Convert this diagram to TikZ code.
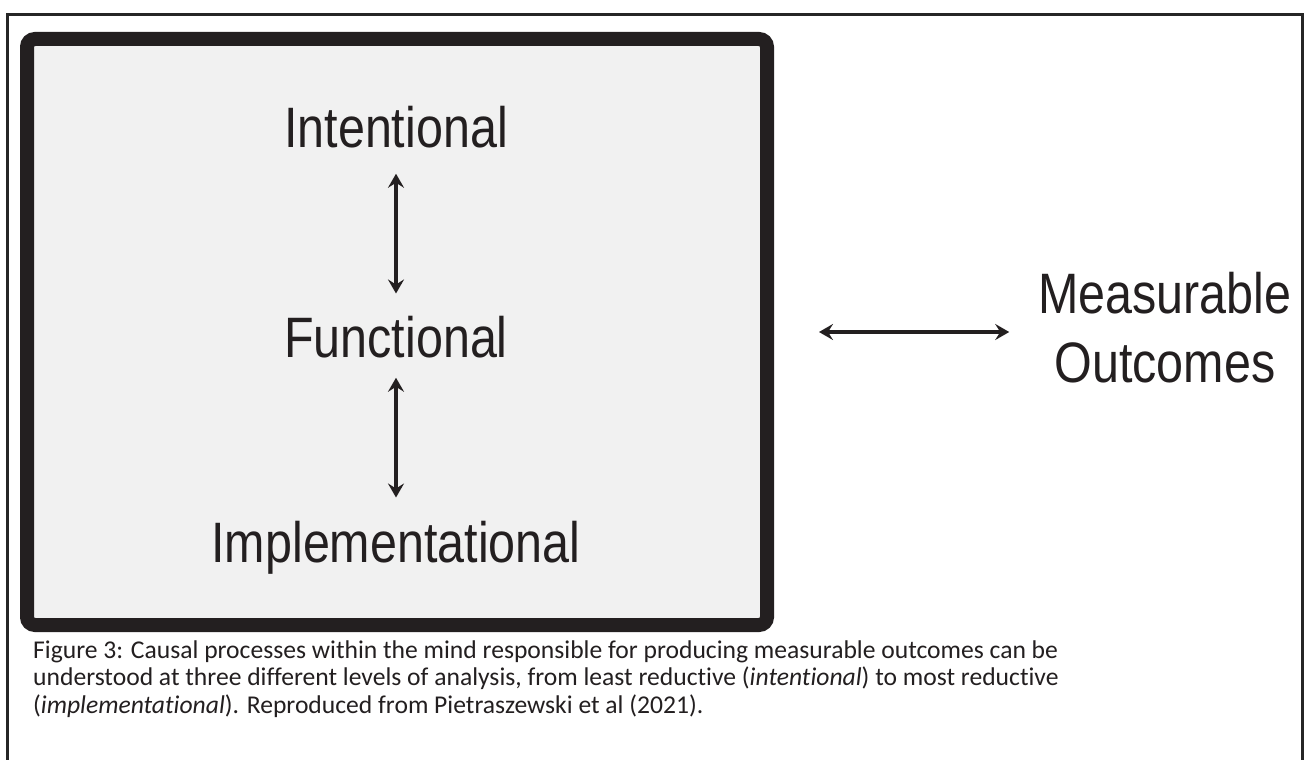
\documentclass[tikz,border=0pt]{standalone}
\usepackage{fontspec}
\setmainfont[Ligatures=NoCommon]{Carlito}
\newfontfamily\condfont[FakeStretch=0.85]{Liberation Sans}
\usetikzlibrary{arrows.meta}
\definecolor{boxfill}{HTML}{F1F1F1}
\definecolor{ink}{HTML}{231F20}
\tikzset{
  level/.style={inner sep=0pt, font=\condfont\fontsize{57}{69}\selectfont, text=ink},
  caption/.style={inner sep=0pt, anchor=base west, font=\fontsize{25.6}{27.5}\selectfont, text=ink},
  dblarrow/.style={line width=3.2pt, draw=ink, {Stealth[length=14pt,width=16pt,inset=5pt]}-{Stealth[length=14pt,width=16pt,inset=5pt]}},
}
\begin{document}
\begin{tikzpicture}[x=1pt,y=-1pt]
\useasboundingbox (0,0) rectangle (1304,760);
\fill[white] (0,0) rectangle (1304,760);
% outer frame
\draw[line width=3pt, draw=black!85] (7,762) -- (7,15) -- (1302,15) -- (1302,762);
% inner box
\node[draw=ink, fill=boxfill, line width=14pt, rounded corners=8pt,
      minimum width=740pt, minimum height=586pt, inner sep=0pt] (box) at (397,332) {};
% levels
\node[level, anchor=base] (int) at (396,147) {Intentional};
\node[level, anchor=base] (fun) at (396,357) {Functional};
\node[level, anchor=base] (imp) at (396,562) {Implementational};
\node[level, align=center] (meas) at (1165,327.5) {Measurable\\Outcomes};
% arrows
\draw[dblarrow, shorten <=26pt, shorten >=22pt] (int.south) -- (fun.north);
\draw[dblarrow, shorten <=20pt, shorten >=23pt] (fun.south) -- (imp.north);
\draw[dblarrow, shorten <=45pt, shorten >=29pt] (box.east) -- (box.east -| meas.west);
% caption
\node[caption] (cap1) at (33,658) {Figure 3: Causal processes within the mind responsible for producing measurable outcomes can be};
\node[caption] (cap2) at (33,685.5) {understood at three different levels of analysis, from least reductive (\textit{intentional}) to most reductive};
\node[caption] (cap3) at (33,713) {(\textit{implementational}). Reproduced from Pietraszewski et al (2021).};
\end{tikzpicture}
\end{document}
